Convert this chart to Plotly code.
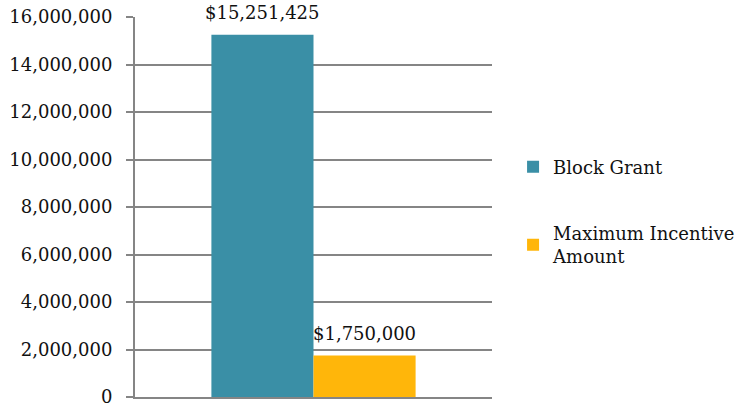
import plotly.graph_objects as go

# Funding components
series_names = ["Block Grant", "Maximum Incentive<br>Amount"]
series_values = [15251425, 1750000]
series_colors = ["#3A8FA6", "#FFB60A"]
category = [""]

tick_values = [0, 2000000, 4000000, 6000000, 8000000, 10000000, 12000000, 14000000, 16000000]

FONT = "DejaVu Serif"
GRID = "#858585"
TEXT = "#111111"
FS = 18

fig = go.Figure()
for name, val, col in zip(series_names, series_values, series_colors):
    fig.add_trace(go.Bar(
        x=category, y=[val], name=name,
        marker=dict(color=col, line=dict(width=0)),
        offsetgroup=name, legendgroup=name,
    ))

bargap = 0.428
half = (1 - bargap) / 2
centres = [0.5 - half / 2, 0.5 + half / 2]

# Value labels above each bar
annotations = [
    dict(
        x=c, xref="paper", y=val, yref="y",
        text="${:,}".format(val),
        showarrow=False, yshift=22,
        font=dict(family=FONT, size=FS, color=TEXT),
    )
    for c, val in zip(centres, series_values)
]

fig.update_layout(
    width=750, height=403,
    margin=dict(l=135, r=258, t=17, b=6, autoexpand=False),
    paper_bgcolor="white", plot_bgcolor="white",
    barmode="group", bargap=bargap, bargroupgap=0,
    font=dict(family=FONT, size=FS, color=TEXT),
    showlegend=True,
    legend=dict(
        x=1.059, y=0.487, xanchor="left", yanchor="middle",
        font=dict(family=FONT, size=FS, color=TEXT),
        tracegroupgap=40, itemwidth=30,
        bgcolor="rgba(0,0,0,0)",
        traceorder="grouped",
    ),
    annotations=annotations,
    xaxis=dict(
        showticklabels=False, ticks="", showgrid=False,
        showline=True, linecolor=GRID, linewidth=2,
        zeroline=False, fixedrange=True, automargin=False,
    ),
    yaxis=dict(
        range=[0, 16000000], tickvals=tick_values,
        tickformat=",d",
        showgrid=True, gridcolor=GRID, gridwidth=2,
        showline=True, linecolor=GRID, linewidth=2,
        ticks="outside", ticklen=7, tickcolor=GRID, tickwidth=2,
        zeroline=False, automargin=False,
        tickfont=dict(family=FONT, size=FS, color=TEXT),
        ticklabelstandoff=10,
        ticklabeloverflow="allow",
    ),
)

fig.write_html("out.html")
